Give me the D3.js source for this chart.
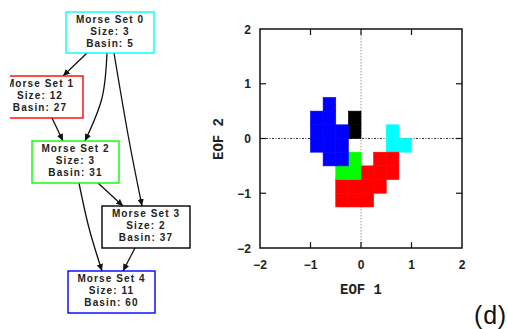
<!DOCTYPE html>
<html>
<head>
<meta charset="utf-8">
<script src="https://cdn.jsdelivr.net/npm/d3@7"></script>
<style>
  html, body { margin: 0; padding: 0; background: #fff; }
  svg { display: block; }
</style>
</head>
<body>
<svg id="chart" width="507" height="329"></svg>
<script>
// ---------------- data ----------------
const morseSets = ["Morse Set 0", "Morse Set 1", "Morse Set 2", "Morse Set 3", "Morse Set 4"];
const setSizes = [3, 12, 3, 2, 11];
const setBasins = [5, 27, 31, 37, 60];
const setColors = ["#00ffff", "#ff0000", "#00ff00", "#000000", "#0000ff"];
const edges = [[0, 1], [0, 2], [0, 3], [1, 2], [2, 3], [2, 4], [3, 4]];

// grid cells (lower-left corner in EOF1, EOF2), cell side 0.25
const cellSize = 0.25;
const cells0 = [[0.5, -0.25], [0.5, 0], [0.75, -0.25]];
const cells1 = [[-0.5, -1.25], [-0.5, -1.0], [-0.25, -1.25], [-0.25, -1.0],
                [0, -1.25], [0, -1.0], [0, -0.75],
                [0.25, -1.0], [0.25, -0.75], [0.25, -0.5],
                [0.5, -0.75], [0.5, -0.5]];
const cells2 = [[-0.5, -0.75], [-0.25, -0.75], [-0.25, -0.5]];
const cells3 = [[-0.25, 0], [-0.25, 0.25]];
const cells4 = [[-1, -0.25], [-1, 0], [-1, 0.25],
                [-0.75, -0.5], [-0.75, -0.25], [-0.75, 0], [-0.75, 0.25], [-0.75, 0.5],
                [-0.5, -0.5], [-0.5, -0.25], [-0.5, 0]];
const cellSets = [cells0, cells1, cells2, cells3, cells4];

const xTicks = [-2, -1, 0, 1, 2];
const yTicks = [-2, -1, 0, 1, 2];
const xDomain = [-2, 2];
const yDomain = [-2, 2];

// ---------------- layout (diagram geometry) ----------------
const nodeBoxes = [
  {x: 66, y: 12, w: 88, h: 41},
  {x: -3, y: 76, w: 86, h: 42},
  {x: 32, y: 141, w: 87, h: 42},
  {x: 102, y: 206, w: 88, h: 42},
  {x: 68, y: 271, w: 87, h: 42}
];
const edgeRoutes = [
  [[87, 53], [63, 76]],
  [[107, 53], [102, 98], [85, 141]],
  [[114, 53], [129, 140], [142, 206]],
  [[52, 118], [63, 141]],
  [[98, 183], [123, 206]],
  [[79, 183], [89, 228], [102, 271]],
  [[135, 248], [123, 271]]
];

const svg = d3.select("#chart");
const fmt = v => (v < 0 ? "\u2212" + Math.abs(v) : String(v));

// ---------------- diagram ----------------
const defs = svg.append("defs");
defs.append("clipPath").attr("id", "leftClip")
  .append("rect").attr("x", 10).attr("y", 0).attr("width", 200).attr("height", 329);
defs.append("marker")
  .attr("id", "arrow").attr("viewBox", "0 0 10 10")
  .attr("refX", 10).attr("refY", 5)
  .attr("markerWidth", 7).attr("markerHeight", 7)
  .attr("markerUnits", "userSpaceOnUse")
  .attr("orient", "auto")
  .append("path").attr("d", "M0,0.5 L10,5 L0,9.5 Z").attr("fill", "#111");

const gDiag = svg.append("g").attr("clip-path", "url(#leftClip)");
const lineGen = d3.line().curve(d3.curveCatmullRom.alpha(0.5));

gDiag.selectAll("path.edge").data(edges).join("path")
  .attr("class", "edge")
  .attr("d", (d, i) => lineGen(edgeRoutes[i]))
  .attr("fill", "none").attr("stroke", "#111").attr("stroke-width", 1.3)
  .attr("marker-end", "url(#arrow)");

const nodeG = gDiag.selectAll("g.node").data(morseSets).join("g").attr("class", "node");
nodeG.append("rect")
  .attr("x", (d, i) => nodeBoxes[i].x).attr("y", (d, i) => nodeBoxes[i].y)
  .attr("width", (d, i) => nodeBoxes[i].w).attr("height", (d, i) => nodeBoxes[i].h)
  .attr("fill", "#fff").attr("stroke", (d, i) => setColors[i]).attr("stroke-width", 1.4);
nodeG.each(function (d, i) {
  const b = nodeBoxes[i];
  const cx = b.x + b.w / 2;
  const lines = [d, "Size: " + setSizes[i], "Basin: " + setBasins[i]];
  d3.select(this).selectAll("text").data(lines).join("text")
    .attr("x", cx).attr("y", (t, j) => b.y + 11 + j * 12)
    .attr("text-anchor", "middle")
    .attr("font-family", "Liberation Sans, Arial, sans-serif")
    .attr("font-weight", "bold").attr("font-size", 10)
    .attr("letter-spacing", 1.1)
    .attr("fill", "#222")
    .text(t => t);
});

// ---------------- scatter of cells ----------------
const x = d3.scaleLinear().domain(xDomain).range([260, 462]);
const y = d3.scaleLinear().domain(yDomain).range([248, 29]);

const gPlot = svg.append("g");
// reference lines
gPlot.append("line")
  .attr("x1", x(0)).attr("x2", x(0)).attr("y1", y(2)).attr("y2", y(-2))
  .attr("stroke", "#999").attr("stroke-width", 1).attr("stroke-dasharray", "1.5,1.5");
gPlot.append("line")
  .attr("x1", x(-2)).attr("x2", x(2)).attr("y1", y(0)).attr("y2", y(0))
  .attr("stroke", "#333").attr("stroke-width", 1).attr("stroke-dasharray", "2,1.5,1,1.5");

cellSets.forEach((cs, k) => {
  gPlot.append("g").selectAll("rect").data(cs).join("rect")
    .attr("x", d => x(d[0]))
    .attr("y", d => y(d[1] + cellSize))
    .attr("width", d => x(d[0] + cellSize) - x(d[0]))
    .attr("height", d => y(d[1]) - y(d[1] + cellSize))
    .attr("fill", setColors[k])
    .attr("stroke", setColors[k]).attr("stroke-width", 0.6);
});

// frame
gPlot.append("rect")
  .attr("x", x(-2)).attr("y", y(2)).attr("width", x(2) - x(-2)).attr("height", y(-2) - y(2))
  .attr("fill", "none").attr("stroke", "#111").attr("stroke-width", 1.5);

// inward ticks on all four sides
const tickLen = 6;
const gTicks = gPlot.append("g").attr("stroke", "#111").attr("stroke-width", 1.2);
xTicks.slice(1, -1).forEach(t => {
  gTicks.append("line").attr("x1", x(t)).attr("x2", x(t)).attr("y1", y(-2)).attr("y2", y(-2) - tickLen);
  gTicks.append("line").attr("x1", x(t)).attr("x2", x(t)).attr("y1", y(2)).attr("y2", y(2) + tickLen);
});
yTicks.slice(1, -1).forEach(t => {
  gTicks.append("line").attr("x1", x(-2)).attr("x2", x(-2) + tickLen).attr("y1", y(t)).attr("y2", y(t));
  gTicks.append("line").attr("x1", x(2)).attr("x2", x(2) - tickLen).attr("y1", y(t)).attr("y2", y(t));
});

// tick labels
gPlot.append("g").selectAll("text").data(xTicks).join("text")
  .attr("x", d => x(d)).attr("y", 269)
  .attr("text-anchor", "middle")
  .attr("font-family", "Liberation Sans, Arial, sans-serif")
  .attr("font-weight", "bold").attr("font-size", 12).attr("fill", "#222")
  .text(fmt);
gPlot.append("g").selectAll("text").data(yTicks).join("text")
  .attr("x", 251).attr("y", d => y(d) + 4.5)
  .attr("text-anchor", "end")
  .attr("font-family", "Liberation Sans, Arial, sans-serif")
  .attr("font-weight", "bold").attr("font-size", 12).attr("fill", "#222")
  .text(fmt);

// axis titles
gPlot.append("text")
  .attr("x", 361).attr("y", 294).attr("text-anchor", "middle")
  .attr("font-family", "Liberation Mono, Courier New, monospace")
  .attr("font-weight", "bold").attr("font-size", 14).attr("fill", "#222")
  .text("EOF 1");
gPlot.append("text")
  .attr("transform", "translate(223,139) rotate(-90)")
  .attr("text-anchor", "middle")
  .attr("font-family", "Liberation Mono, Courier New, monospace")
  .attr("font-weight", "bold").attr("font-size", 14).attr("fill", "#222")
  .text("EOF 2");

// panel label
svg.append("text")
  .attr("x", 474).attr("y", 324)
  .attr("font-family", "Liberation Sans, Arial, sans-serif")
  .attr("font-size", 25).attr("letter-spacing", 0.8).attr("fill", "#111")
  .text("(d)");
</script>
</body>
</html>
